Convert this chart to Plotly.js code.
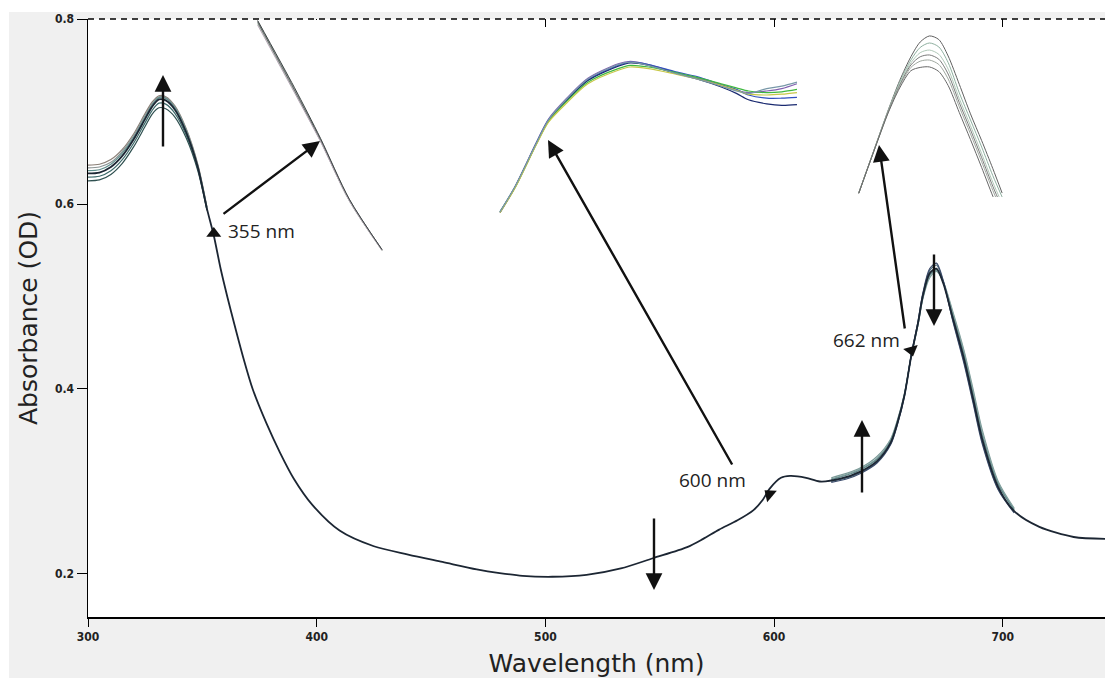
<!DOCTYPE html>
<html>
<head>
<meta charset="utf-8">
<script src="https://cdn.plot.ly/plotly-3.0.1.min.js"></script>
<style>html,body{margin:0;padding:0;background:#fff;}#chart{width:1105px;height:678px;}</style>
</head>
<body>
<div id="chart"></div>
<script>
// ---------------- DATA ----------------
// Main absorbance spectrum (nm, OD)
const wavelength = [300,305,310,315,320,325,328,331,334,338,343,348,352,355,358,361,364,368,372,378,384,390,398,410,425,440,455,470,480,490,503,518,533,547,562,569,576,584,591,595,598,603,607,614,620,629,638,645,651,654,657,660,663,665,668,671,674,678,683,687,691,698,705,716,731,745];
const absMain = [0.633,0.634,0.640,0.652,0.670,0.692,0.705,0.713,0.712,0.702,0.677,0.640,0.595,0.566,0.530,0.499,0.470,0.433,0.400,0.363,0.331,0.303,0.275,0.247,0.230,0.221,0.213,0.205,0.201,0.198,0.197,0.199,0.206,0.217,0.229,0.238,0.248,0.258,0.269,0.280,0.292,0.304,0.306,0.304,0.300,0.303,0.311,0.322,0.342,0.364,0.393,0.436,0.472,0.500,0.525,0.530,0.514,0.478,0.433,0.390,0.346,0.294,0.268,0.251,0.240,0.238];

// Other spectra of the series, UV band region
const wlUV = [300,305,310,315,320,325,328,331,334,338,343,348,352];
const absUV1 = [0.642,0.643,0.648,0.659,0.676,0.698,0.710,0.717,0.716,0.706,0.681,0.643,0.597];
const absUV2 = [0.639,0.640,0.645,0.657,0.674,0.696,0.708,0.716,0.715,0.705,0.680,0.642,0.596];
const absUV3 = [0.636,0.637,0.643,0.655,0.672,0.694,0.707,0.715,0.714,0.704,0.679,0.641,0.596];
const absUV4 = [0.629,0.630,0.636,0.648,0.666,0.688,0.701,0.709,0.708,0.698,0.674,0.638,0.594];
const absUV5 = [0.625,0.626,0.632,0.644,0.662,0.684,0.697,0.704,0.703,0.694,0.671,0.636,0.593];

// Other spectra of the series, Q band region
const wlQ = [625,632,638,645,651,654,657,660,663,665,668,671,674,678,683,687,691,698,705];
const absQ1 = [0.304,0.309,0.315,0.327,0.346,0.367,0.395,0.436,0.470,0.497,0.520,0.527,0.516,0.485,0.442,0.400,0.356,0.300,0.271];
const absQ2 = [0.303,0.308,0.314,0.325,0.345,0.366,0.394,0.436,0.471,0.498,0.522,0.528,0.516,0.483,0.440,0.397,0.353,0.298,0.270];
const absQ3 = [0.302,0.307,0.313,0.324,0.344,0.365,0.394,0.436,0.471,0.499,0.523,0.529,0.515,0.481,0.437,0.394,0.350,0.297,0.269];
const absQ4 = [0.300,0.304,0.310,0.321,0.341,0.363,0.393,0.437,0.473,0.502,0.528,0.534,0.516,0.476,0.430,0.387,0.343,0.292,0.267];
const absQ5 = [0.299,0.303,0.309,0.320,0.340,0.362,0.392,0.437,0.474,0.503,0.530,0.536,0.517,0.475,0.428,0.385,0.341,0.291,0.266];

// Inset around 355 nm
const wlIn355 = [350.2,353.0,355.0,357.2,359.7];
const in355a = [0.5998,0.5852,0.5743,0.5613,0.5505];
const in355b = [0.5992,0.5846,0.5739,0.5610,0.5503];
const in355c = [0.5995,0.5849,0.5741,0.5612,0.5504];
const in355d = [0.5989,0.5844,0.5738,0.5610,0.5503];
const in355e = [0.5999,0.5855,0.5745,0.5614,0.5505];

// Inset around 600 nm
const wlIn600 = [575.5,578,581.5,583.5,586.5,590,595,597,600,604.5,608,612,614.5,616.5,619.5,622,624.5];
const in600a = [0.2904,0.2936,0.2991,0.3020,0.3046,0.3071,0.3089,0.3092,0.3088,0.3078,0.3071,0.3062,0.3056,0.3053,0.3055,0.3058,0.3064];
const in600b = [0.2904,0.2935,0.2990,0.3019,0.3044,0.3069,0.3087,0.3091,0.3088,0.3079,0.3073,0.3063,0.3057,0.3050,0.3046,0.3046,0.3047];
const in600c = [0.2903,0.2935,0.2989,0.3018,0.3043,0.3068,0.3086,0.3090,0.3087,0.3077,0.3070,0.3060,0.3052,0.3044,0.3039,0.3037,0.3038];
const in600d = [0.2904,0.2935,0.2989,0.3017,0.3042,0.3066,0.3083,0.3087,0.3085,0.3078,0.3072,0.3064,0.3059,0.3055,0.3053,0.3054,0.3057];
const in600e = [0.2903,0.2934,0.2988,0.3016,0.3040,0.3064,0.3081,0.3085,0.3083,0.3076,0.3070,0.3062,0.3056,0.3051,0.3050,0.3051,0.3053];
const in600f = [0.2904,0.2936,0.2990,0.3019,0.3045,0.3070,0.3088,0.3091,0.3087,0.3077,0.3070,0.3061,0.3055,0.3052,0.3058,0.3061,0.3066];

// Inset around 662 nm
const wlIn662 = [651,655,659,662,665,667.5,670,672.5,675,678,681,684,687,689.5];
const in662a = [0.4424,0.4680,0.4935,0.5110,0.5255,0.5345,0.5382,0.5360,0.5260,0.5087,0.4907,0.4744,0.4573,0.4424];
const in662b = [0.4424,0.4679,0.4932,0.5100,0.5235,0.5312,0.5339,0.5315,0.5220,0.5035,0.4870,0.4705,0.4530,0.4400];
const in662c = [0.4424,0.4678,0.4929,0.5090,0.5218,0.5280,0.5296,0.5270,0.5180,0.5000,0.4835,0.4665,0.4490,0.4360];
const in662d = [0.4423,0.4677,0.4926,0.5082,0.5205,0.5255,0.5266,0.5240,0.5150,0.4975,0.4810,0.4640,0.4465,0.4335];
const in662e = [0.4423,0.4676,0.4922,0.5075,0.5190,0.5228,0.5235,0.5208,0.5120,0.4950,0.4785,0.4615,0.4440,0.4310];
const in662f = [0.4422,0.4675,0.4918,0.5065,0.5170,0.5190,0.5193,0.5165,0.5080,0.4915,0.4750,0.4580,0.4405,0.4275];

// Marked wavelengths on the spectrum
const markWl = [355, 598, 660];
const markAbs = [0.568, 0.286, 0.442];
const markLabels = ['355 nm', '600 nm', '662 nm'];

const xTicks = [300, 400, 500, 600, 700];
const yTicks = [0.2, 0.4, 0.6, 0.8];

// ---------------- LAYOUT HELPERS ----------------
const W = 1105, H = 678, ML = 88, MT = 19, MR = 0, MB = 61;
const XR = [300, 744.7], YR = [0.1535, 0.8];
const PW = W - ML - MR, PH = H - MT - MB;
const X = px => XR[0] + (px - ML) * (XR[1] - XR[0]) / PW;
const Y = py => YR[1] - (py - MT) * (YR[1] - YR[0]) / PH;
const PXd = (a, b) => [(a - ML) / PW, (b - ML) / PW];
const PYd = (top, bot) => [(H - MB - bot) / PH, (H - MB - top) / PH];

const traces = [];
const line = (x, y, color, width, xa, ya) => ({
  x, y, type: 'scatter', mode: 'lines', hoverinfo: 'skip', showlegend: false,
  line: {color, width, shape: 'spline', smoothing: 0.8}, xaxis: xa || 'x', yaxis: ya || 'y'
});

// main region variants
[[absUV1,'#8a7f76'],[absUV2,'#8c9494'],[absUV3,'#5f8f8c'],[absUV4,'#3d6b6b'],[absUV5,'#2f5050']].forEach(([a,c]) => traces.push(line(wlUV, a, c, 1.2)));
[[absQ1,'#7a9a98'],[absQ2,'#8fa8a6'],[absQ3,'#5f8a8a'],[absQ4,'#4a6a7a'],[absQ5,'#3a4a6a']].forEach(([a,c]) => traces.push(line(wlQ, a, c, 1.2)));
traces.push(line(wavelength, absMain, '#1c2633', 1.8));

// insets
[[in355a,'#8a8a8a'],[in355b,'#a8c0a8'],[in355c,'#606868'],[in355d,'#b8a8b8'],[in355e,'#404848']].forEach(([a,c]) => traces.push(line(wlIn355, a, c, 1, 'x3', 'y3')));
[[in600a,'#8060b0'],[in600b,'#3050c0'],[in600c,'#1a2a70'],[in600d,'#40b840'],[in600e,'#c8c848'],[in600f,'#7898a8']].forEach(([a,c]) => traces.push(line(wlIn600, a, c, 1.2, 'x4', 'y4')));
[[in662a,'#606060'],[in662b,'#8fb0a0'],[in662c,'#b0c8b8'],[in662d,'#7a7a7a'],[in662e,'#a0a8a0'],[in662f,'#686868']].forEach(([a,c]) => traces.push(line(wlIn662, a, c, 1, 'x5', 'y5')));

// marker triangles
traces.push({
  x: markWl, y: markAbs, type: 'scatter', mode: 'markers', hoverinfo: 'skip', showlegend: false,
  marker: {symbol: 'triangle-up', size: 13, color: '#111', angle: [0, -50, 165], line: {width: 0}}
});

const arrow = (hx, hy, tx, ty) => ({
  x: X(hx), y: Y(hy), ax: X(tx), ay: Y(ty), axref: 'x', ayref: 'y', xref: 'x', yref: 'y',
  text: '', showarrow: true, arrowhead: 2, arrowsize: 1.4, arrowwidth: 2.4, arrowcolor: '#111'
});
const annotations = [
  arrow(163, 75, 163, 148),
  arrow(320, 141, 222, 215),
  arrow(548, 140, 733, 466),
  arrow(654, 590, 654, 517),
  arrow(862, 420, 862, 494),
  arrow(934, 326, 934, 253),
  arrow(879, 145, 905, 330)
];
const labelPos = [[226, 231, 'left'], [712, 480, 'center'], [866, 340, 'center']];
markLabels.forEach((t, i) => annotations.push({
  x: X(labelPos[i][0]), y: Y(labelPos[i][1]), xref: 'x', yref: 'y', text: t, showarrow: false,
  xanchor: labelPos[i][2], yanchor: 'middle', font: {family: 'Open Sans, Noto Sans, sans-serif', size: 19, color: '#222'}
}));

const tickFont = {family: 'DejaVu Sans Condensed, DejaVu Sans, sans-serif', size: 12, color: '#222', weight: 'bold'};
const hidden = {visible: false, showgrid: false, zeroline: false, fixedrange: true};

const layout = {
  width: W, height: H,
  margin: {l: ML, r: MR, t: MT, b: MB, pad: 0},
  paper_bgcolor: '#ffffff', plot_bgcolor: '#ffffff',
  showlegend: false,
  xaxis: {
    range: XR, tickvals: xTicks, ticktext: xTicks.map(String), ticks: 'outside', ticklen: 8, tickwidth: 1, tickcolor: '#000',
    showline: true, linecolor: '#000', linewidth: 1.6, showgrid: false, zeroline: false, tickfont: tickFont,
    title: {text: 'Wavelength (nm)', font: {family: 'DejaVu Sans, sans-serif', size: 25, color: '#222'}, standoff: 13},
    automargin: false
  },
  xaxis2: {
    overlaying: 'x', matches: 'x', side: 'top', anchor: 'y', range: XR, tickvals: xTicks, ticks: 'inside', ticklen: 8,
    tickcolor: '#000', showticklabels: false, showline: false, showgrid: false, zeroline: false
  },
  yaxis: {
    range: YR, tickvals: yTicks, ticktext: yTicks.map(v => v.toFixed(1)), ticks: 'outside', ticklen: 10, tickwidth: 1, tickcolor: '#000',
    showline: true, linecolor: '#000', linewidth: 1.5, showgrid: false, zeroline: false, tickfont: tickFont,
    title: {text: 'Absorbance (OD)', font: {family: 'DejaVu Sans, sans-serif', size: 25, color: '#222'}, standoff: 10},
    automargin: false
  },
  xaxis3: Object.assign({domain: PXd(255, 386), range: [350, 360], anchor: 'y3'}, hidden),
  yaxis3: Object.assign({domain: PYd(20, 252), range: [0.55, 0.60], anchor: 'x3'}, hidden),
  xaxis4: Object.assign({domain: PXd(497, 800), range: [575, 625], anchor: 'y4'}, hidden),
  yaxis4: Object.assign({domain: PYd(55, 215), range: [0.29, 0.31], anchor: 'x4'}, hidden),
  xaxis5: Object.assign({domain: PXd(855, 1004), range: [650, 690], anchor: 'y5'}, hidden),
  yaxis5: Object.assign({domain: PYd(33, 197), range: [0.44, 0.54], anchor: 'x5'}, hidden),
  shapes: [
    {type: 'rect', xref: 'paper', yref: 'paper', layer: 'below',
     x0: (9 - ML) / PW, x1: 1.01, y0: -MB / PH - 0.01, y1: (H - MB - 12) / PH,
     fillcolor: '#f0f0f0', line: {width: 0}},
    {type: 'rect', xref: 'paper', yref: 'paper', layer: 'below',
     x0: 0, x1: 1.01, y0: 0, y1: 1, fillcolor: '#ffffff', line: {width: 0}},
    {type: 'line', xref: 'paper', yref: 'paper', x0: 0, x1: 1, y0: 1, y1: 1,
     line: {color: '#000', width: 1.3, dash: '6px,5px'}}
  ],
  annotations
};

// dummy trace to activate top mirrored axis
traces.push({x: [XR[0]], y: [YR[0]], type: 'scatter', mode: 'markers', marker: {opacity: 0}, xaxis: 'x2', yaxis: 'y', hoverinfo: 'skip', showlegend: false});

Plotly.newPlot('chart', traces, layout, {displayModeBar: false, staticPlot: true});
</script>
</body>
</html>
